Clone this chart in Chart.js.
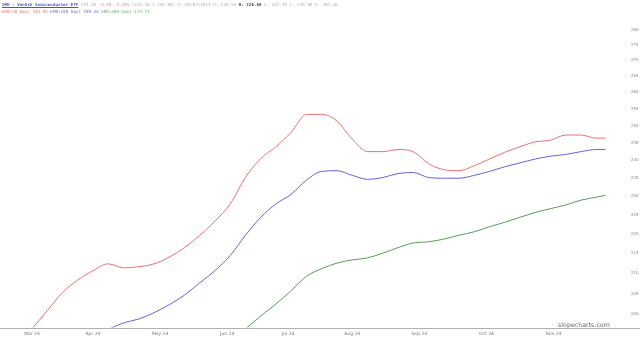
<!DOCTYPE html>
<html><head><meta charset="utf-8">
<script src="https://cdn.jsdelivr.net/npm/chart.js@4/dist/chart.umd.min.js"></script>
<style>
html,body{margin:0;padding:0;background:#fff;}
#wrap{position:relative;width:640px;height:341px;}
canvas{position:absolute;left:0;top:0;}
.hd{position:absolute;left:2px;font-family:"DejaVu Sans Mono",monospace;font-size:4.1px;letter-spacing:0.08px;white-space:pre;color:#aaa;line-height:5px;}
#wm{position:absolute;left:558px;top:321px;font-family:"DejaVu Sans",sans-serif;font-size:6.3px;color:#666;}
</style></head><body>
<div id="wrap">
<canvas id="c" width="640" height="341"></canvas>
<div class="hd" style="top:2px"><span style="color:#4455cc;text-decoration:underline;font-weight:bold">SMH - VanEck Semiconductor ETF</span> 241.38 <span style="color:#e87070">-5.58 -2.26%</span> (241.36 x 245.00) D: 03/07/2024 O: 226.59 <b style="color:#444">H: 226.89</b> L: 222.49 C: 226.89 V: 182.46</div>
<div class="hd" style="top:9px"><span style="color:#e87070">EMA(50 Day) 244.85</span> <span style="color:#6666cc">EMA(100 Day) 199.46</span> <span style="color:#66aa66">EMA(200 Day) 173.71</span></div>
<div id="wm">slopecharts.com</div>
</div>
<script>
const sampleDays = [0,5,10,15,20,25,30,35,40,45,50,55,60,65,70,75,80,85,90,95,100,105,110,115,120,125,130,135,140,145,150,155,160,165,170,175,180,185,188];
const ema50 = [196.6,200.9,205.2,208.3,210.6,212.3,211.3,211.6,212.3,214.0,216.4,219.6,223.3,227.9,235.2,240.4,243.8,248.0,253.3,253.3,251.3,246.0,242.4,242.4,243.0,242.4,239.0,237.3,237.0,238.4,240.3,242.2,243.8,245.2,245.7,247.2,247.2,246.3,246.3];
const ema100 = [null,null,null,null,null,196.5,198.0,198.9,200.4,202.3,204.6,207.6,210.6,214.4,219.6,224.3,227.9,230.5,234.4,236.8,237.0,235.7,234.6,235.1,236.2,236.5,235.1,234.9,234.9,235.7,236.8,238.1,239.2,240.3,241.1,241.6,242.4,243.0,243.0];
const ema200 = [null,null,null,null,null,null,null,null,null,null,null,null,null,null,196.6,199.6,202.5,205.7,209.2,211.1,212.5,213.3,213.8,215.0,216.4,217.6,217.9,218.6,219.6,220.5,221.8,223.0,224.3,225.6,226.6,227.6,228.9,229.7,230.2];
const monthTickDays = [0,20,42,64,84,105,127,149,171];
const monthLabels = ['Mar 24','Apr 24','May 24','Jun 24','Jul 24','Aug 24','Sep 24','Oct 24','Nov 24'];
const priceTicks = [200,205,210,215,220,225,230,235,240,245,250,255,260,265,270,275,280];

function pts(arr){return sampleDays.map((d,i)=>({x:d,y:arr[i]})).filter(p=>p.y!==null);}

const axisDeco = {id:'axisDeco',afterDraw(chart){
  const c=chart.ctx;const ca=chart.chartArea;const y=Math.round(ca.bottom)+0.5;
  c.save();c.strokeStyle='#b0b0b0';c.lineWidth=1;c.beginPath();c.moveTo(0,y);c.lineTo(640,y);c.stroke();
  const xs=chart.scales.x;
  c.fillStyle='#777';c.font='4.5px "DejaVu Sans"';c.textAlign='center';c.textBaseline='middle';
  monthTickDays.forEach((d,i)=>{c.fillText(monthLabels[i],xs.getPixelForValue(d),ca.bottom+6.5);});
  c.restore();}};

new Chart(document.getElementById('c'),{
  type:'line',
  data:{datasets:[
    {data:pts(ema50),borderColor:'rgb(238,110,110)',borderWidth:1,pointRadius:0,cubicInterpolationMode:'monotone'},
    {data:pts(ema100),borderColor:'rgb(100,100,220)',borderWidth:1,pointRadius:0,cubicInterpolationMode:'monotone'},
    {data:pts(ema200),borderColor:'rgb(90,155,90)',borderWidth:1,pointRadius:0,cubicInterpolationMode:'monotone'}
  ]},
  options:{
    responsive:false,animation:false,
    layout:{padding:{left:0,right:0,top:0,bottom:0}},
    plugins:{legend:{display:false},tooltip:{enabled:false}},
    scales:{
      x:{type:'linear',min:-10.5,max:192.8,
        grid:{display:false},border:{display:false},
        afterBuildTicks(s){s.ticks=monthTickDays.map(v=>({value:v}));},
        afterFit(s){s.height=11;},
        ticks:{display:false}
      },
      y:{type:'logarithmic',position:'right',min:196.9,max:285.4,
        grid:{display:false,drawTicks:false},border:{display:false},
        afterBuildTicks(s){s.ticks=priceTicks.map(v=>({value:v}));},
        afterFit(s){s.width=20;},
        ticks:{padding:11,font:{size:4,family:'DejaVu Sans'},color:'#888',autoSkip:false,
          callback(v){return String(v);}}
      }
    }
  },
  plugins:[axisDeco]
});
</script>
</body></html>
